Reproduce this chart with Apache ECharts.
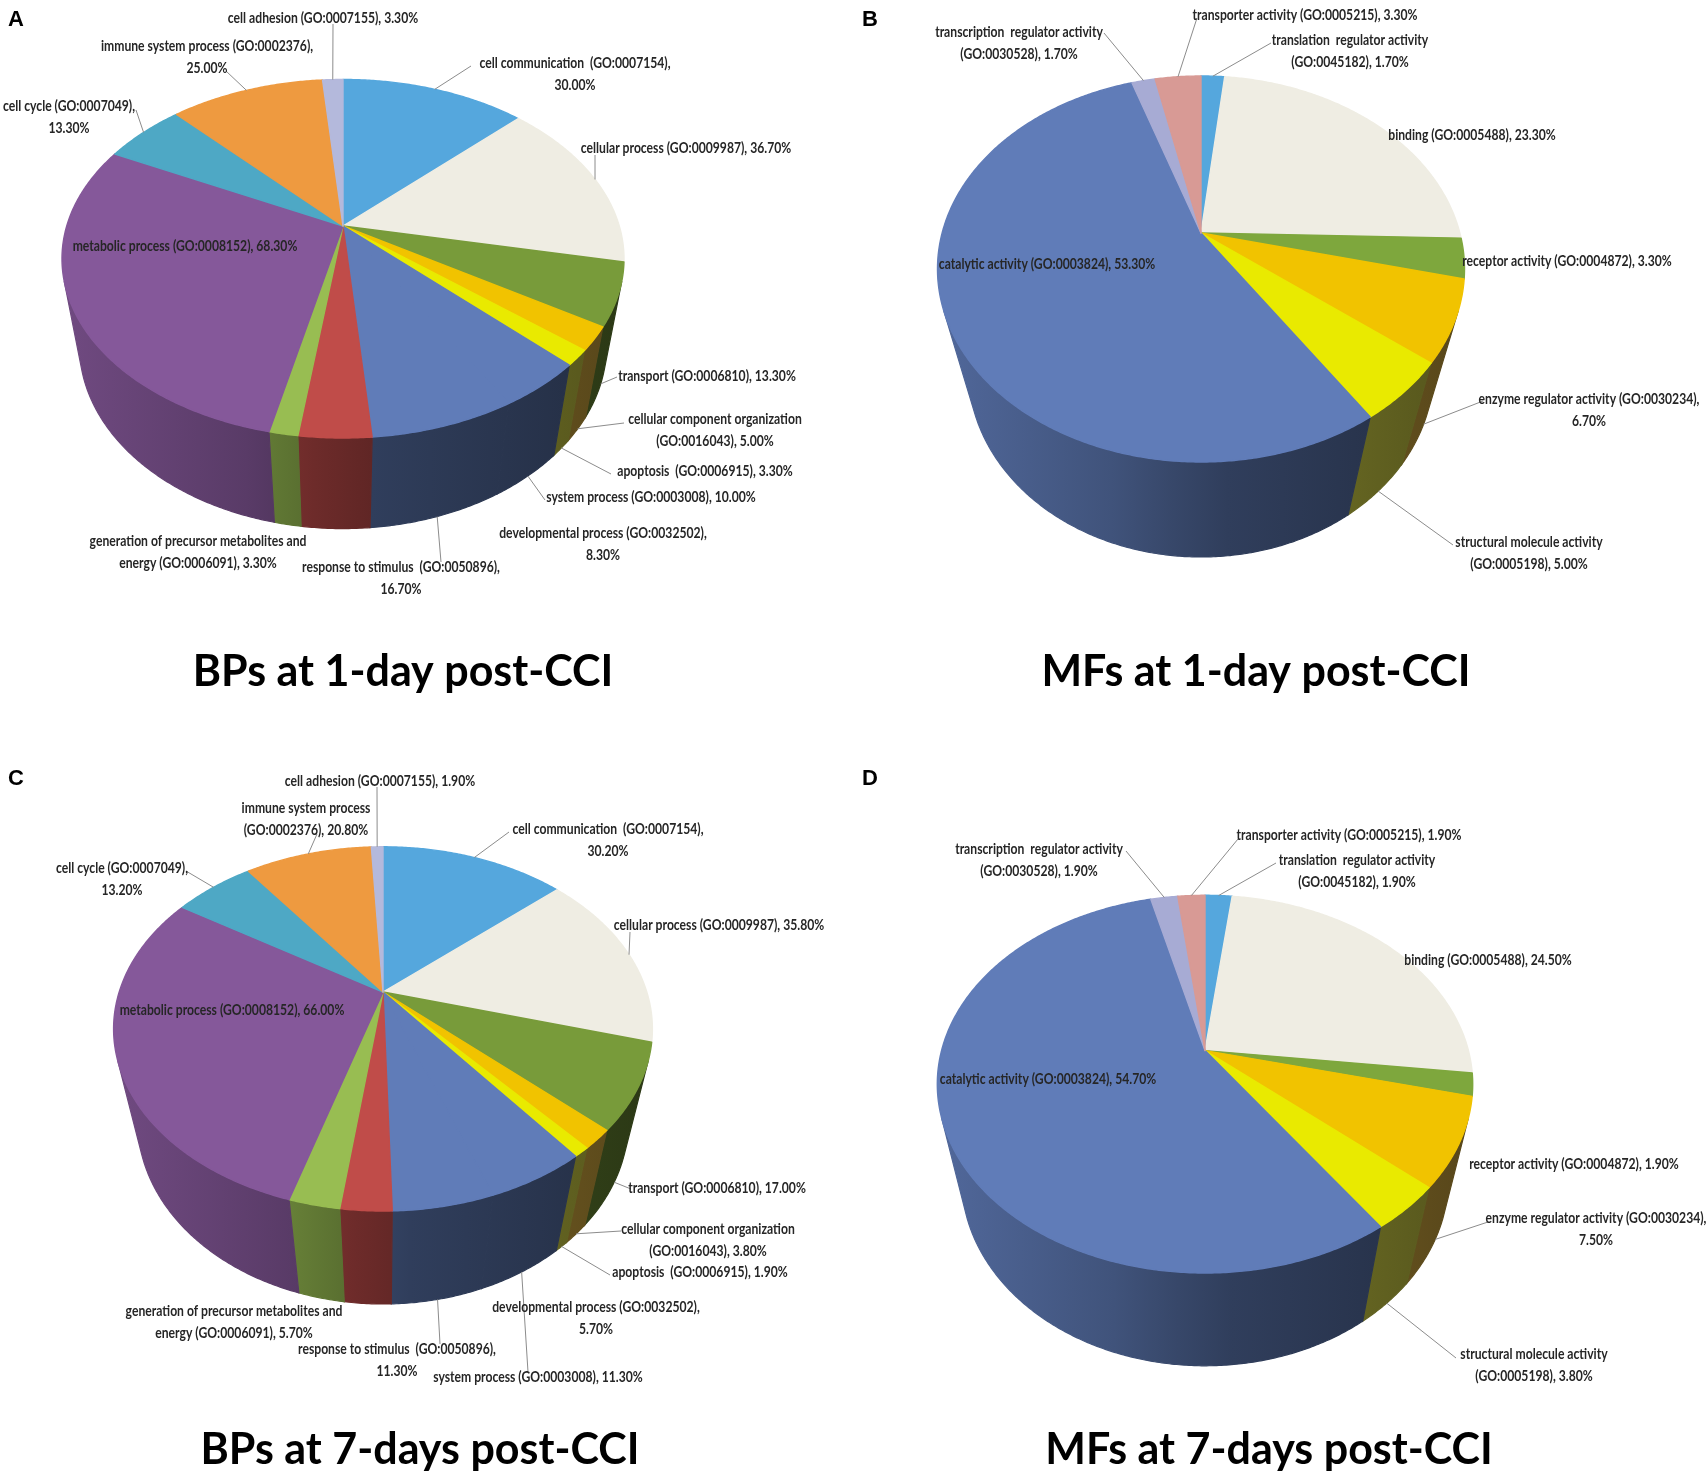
<!DOCTYPE html>
<html><head><meta charset="utf-8">
<script src="https://cdn.jsdelivr.net/npm/echarts@6/dist/echarts.min.js"></script>
<style>html,body{margin:0;padding:0;background:#fff}#c{width:1708px;height:1484px}</style>
</head><body><div id="c"></div>
<script>
// ---------- data ----------
const bpCategories = ['cell communication  (GO:0007154)', 'cellular process (GO:0009987)', 'transport (GO:0006810)',
  'cellular component organization (GO:0016043)', 'apoptosis  (GO:0006915)', 'system process (GO:0003008)',
  'response to stimulus  (GO:0050896)', 'developmental process (GO:0032502)',
  'generation of precursor metabolites and energy (GO:0006091)', 'metabolic process (GO:0008152)',
  'cell cycle (GO:0007049)', 'immune system process (GO:0002376)', 'cell adhesion (GO:0007155)'];
const bp1dayValues = [30.0, 36.7, 13.3, 5.0, 3.3, 10.0, 16.7, 8.3, 3.3, 68.3, 13.3, 25.0, 3.3];
const bp7dayValues = [30.2, 35.8, 17.0, 3.8, 1.9, 11.3, 11.3, 5.7, 5.7, 66.0, 13.2, 20.8, 1.9];
const bpColors = ['#55a7dd', '#efede3', '#789b3a', '#f1c300', '#e9ea00', '#607cb8', '#607cb8', '#c04c49',
  '#98bd52', '#85589a', '#4ea8c5', '#ee9a40', '#b4b9dc'];

const mfCategories = ['translation  regulator activity (GO:0045182)', 'binding (GO:0005488)',
  'receptor activity (GO:0004872)', 'enzyme regulator activity (GO:0030234)',
  'structural molecule activity (GO:0005198)', 'catalytic activity (GO:0003824)',
  'transcription  regulator activity (GO:0030528)', 'transporter activity (GO:0005215)'];
const mf1dayValues = [1.7, 23.3, 3.3, 6.7, 5.0, 53.3, 1.7, 3.3];
const mf7dayValues = [1.9, 24.5, 1.9, 7.5, 3.8, 54.7, 1.9, 1.9];
const mfColors = ['#55a7dd', '#efede3', '#7ea73d', '#f1c300', '#e9ea00', '#607cb8', '#a7abd4', '#d89a95'];

const panelTitles = ['BPs at 1-day post-CCI', 'MFs at 1-day post-CCI', 'BPs at 7-days post-CCI', 'MFs at 7-days post-CCI'];
const panelLetters = ['A', 'B', 'C', 'D'];

// ---------- layout (positions / sizes only) ----------
const geoA = {cx: 343, cy: 226, up: 146.5, down: 212, w: 281, side: 302.6};
const geoB = {cx: 1201, cy: 233, up: 157, down: 229, w: 263.5, side: 324};
const geoC = {cx: 383, cy: 992, up: 145.2, down: 219, w: 269.4, side: 312};
const geoD = {cx: 1205, cy: 1050.6, up: 155.3, down: 222.4, w: 267.7, side: 315.2};

// label layout: x,y = text block centre; s = leader start; d = leader end depth (0 top rim, 1 bottom rim)
const labA = [
  {x: 575, y: 74, brk: 'pct', s: [471, 66], d: 0},
  {x: 686, y: 148, s: [595, 155], d: 0},
  {x: 707, y: 376, s: [617, 377], d: 1},
  {x: 715, y: 430, brk: '(GO', s: [624, 423], d: 1},
  {x: 705, y: 471, s: [611, 474], d: 1},
  {x: 651, y: 497, s: [545, 500], d: 1},
  {x: 401, y: 578, brk: 'pct', s: [441, 562], d: 1},
  {x: 603, y: 544, brk: 'pct'},
  {x: 198, y: 552, brk: 'energy'},
  {x: 185, y: 246},
  {x: 69, y: 117, brk: 'pct', s: [136, 110], d: 0},
  {x: 207, y: 57, brk: 'pct', s: [226, 71], d: 0},
  {x: 323, y: 18, s: [333, 24], d: 0}
];
const labB = [
  {x: 1350, y: 51, brk: '(GO', s: [1271, 43], d: 0},
  {x: 1472, y: 135},
  {x: 1567, y: 261},
  {x: 1589, y: 410, brk: 'pct', s: [1483, 401], d: 1},
  {x: 1529, y: 553, brk: '(GO', s: [1453, 545], d: 1},
  {x: 1047, y: 264},
  {x: 1019, y: 43, brk: '(GO', s: [1104, 33], d: 0},
  {x: 1305, y: 15, s: [1197, 18], d: 0}
];
const labC = [
  {x: 608, y: 840, brk: 'pct', s: [509, 832], d: 0},
  {x: 719, y: 925, s: [630, 932], d: 0},
  {x: 717, y: 1188, s: [631, 1189], d: 1},
  {x: 708, y: 1240, brk: '(GO', s: [621, 1231], d: 1},
  {x: 700, y: 1272, s: [610, 1275], d: 1},
  {x: 538, y: 1377, s: [528, 1372], d: 1},
  {x: 397, y: 1360, brk: 'pct', s: [440, 1344], d: 1},
  {x: 596, y: 1318, brk: 'pct'},
  {x: 234, y: 1322, brk: 'energy'},
  {x: 232, y: 1010},
  {x: 122, y: 879, brk: 'pct', s: [186, 871], d: 0},
  {x: 306, y: 819, brk: '(GO', s: [317, 834], d: 0},
  {x: 380, y: 781, s: [377, 787], d: 0}
];
const labD = [
  {x: 1357, y: 871, brk: '(GO', s: [1276, 863], d: 0},
  {x: 1488, y: 960},
  {x: 1574, y: 1164},
  {x: 1596, y: 1229, brk: 'pct', s: [1488, 1222], d: 1},
  {x: 1534, y: 1365, brk: '(GO', s: [1456, 1358], d: 1},
  {x: 1048, y: 1079},
  {x: 1039, y: 860, brk: '(GO', s: [1126, 851], d: 0},
  {x: 1349, y: 835, s: [1238, 839], d: 0}
];
const titleCenters = [[403, 676], [1256, 676], [420, 1454], [1269, 1454]];
const letterPos = [[8, 9], [862, 9], [8, 768], [862, 768]];

const panels = [
  {cats: bpCategories, values: bp1dayValues, colors: bpColors, geo: geoA, labels: labA},
  {cats: mfCategories, values: mf1dayValues, colors: mfColors, geo: geoB, labels: labB},
  {cats: bpCategories, values: bp7dayValues, colors: bpColors, geo: geoC, labels: labC},
  {cats: mfCategories, values: mf7dayValues, colors: mfColors, geo: geoD, labels: labD}
];

// ---------- helpers ----------
function perspective(g) {
  const r = (g.down + g.up) / (g.down - g.up);
  const A = g.up * (r + 1);
  const Bp = g.w * Math.sqrt(r * r - 1);
  const s = A / Bp, c = Math.sqrt(1 - s * s), k = Bp * c, L = r * c;
  const H = (g.side * (L - c) - k * s) / (k * c - g.side * s);
  const proj = (t, h) => {
    const d = L - c * Math.sin(t) - h * s;
    return [g.cx + k * Math.cos(t) / d, g.cy + k * (s * Math.sin(t) - h * c) / d];
  };
  const ts = Math.asin(Math.min(1, 1 / (L * c)));
  return {proj, H, ts, te: Math.PI - ts};
}
function angles(values) {
  const tot = values.reduce((a, b) => a + b, 0);
  let cur = -Math.PI / 2;
  return values.map(v => { const a = cur; cur += v / tot * 2 * Math.PI; return [a, cur]; });
}
function arc(m, a, b, h) {
  const n = Math.max(2, Math.ceil((b - a) / (Math.PI / 360)));
  const pts = [];
  for (let i = 0; i <= n; i++) pts.push(m.proj(a + (b - a) * i / n, h));
  return pts;
}
function shade(hex, f) {
  const n = parseInt(hex.slice(1), 16);
  let r = ((n >> 16) & 255) * f, g = ((n >> 8) & 255) * f, b = (n & 255) * f;
  b = Math.max(b, 0.33 * (r + g) / 2);
  return 'rgb(' + Math.round(r) + ',' + Math.round(g) + ',' + Math.round(b) + ')';
}
function labelText(name, v, brk) {
  const pct = v.toFixed(2) + '%';
  if (brk === 'pct') return name + ',\n' + pct;
  let t = name + ', ' + pct;
  if (brk) t = t.replace(' ' + brk, '\n' + brk);
  return t;
}

const LABEL_FONT = 'Lato, "Open Sans", sans-serif';
const SHADE_STOPS = [[0, 0.84], [0.33, 0.67], [0.45, 0.57], [0.55, 0.5], [1, 0.36]];
const series = [];
panels.forEach((p, pi) => {
  const m = perspective(p.geo);
  const ang = angles(p.values);
  const data = p.values.map((v, i) => ({value: v, name: p.cats[i]}));
  const g = p.geo;
  // side walls
  series.push({
    type: 'custom', coordinateSystem: 'none', silent: true, animation: false, z: 1,
    data: data,
    renderItem: (params) => {
      const i = params.dataIndex;
      const lo = Math.max(ang[i][0], m.ts), hi = Math.min(ang[i][1], m.te);
      if (hi <= lo) return {type: 'group', children: []};
      const top = arc(m, lo, hi, 0);
      const bot = arc(m, lo, hi, -m.H).reverse();
      const col = p.colors[i];
      const grad = new echarts.graphic.LinearGradient(g.cx - g.w, 0, g.cx + g.w, 0,
        SHADE_STOPS.map(st => ({offset: st[0], color: shade(col, st[1])})), true);
      return {type: 'polygon', shape: {points: top.concat(bot)}, style: {fill: grad, stroke: grad, lineWidth: 1.2}};
    }
  });
  // top faces
  series.push({
    type: 'custom', coordinateSystem: 'none', silent: true, animation: false, z: 2,
    data: data,
    renderItem: (params) => {
      const i = params.dataIndex;
      const pts = [[g.cx, g.cy]].concat(arc(m, ang[i][0], ang[i][1], 0));
      return {type: 'polygon', shape: {points: pts}, style: {fill: p.colors[i], stroke: p.colors[i], lineWidth: 1.4, lineJoin: 'round'}};
    }
  });
  // labels
  series.push({
    type: 'custom', coordinateSystem: 'none', silent: true, animation: false, z: 3,
    data: data,
    renderItem: (params) => {
      const i = params.dataIndex;
      const lb = p.labels[i];
      const children = [];
      if (lb.s) {
        const mid = (ang[i][0] + ang[i][1]) / 2;
        const end = m.proj(mid, -lb.d * m.H);
        children.push({type: 'polyline', shape: {points: [lb.s, end]},
          style: {stroke: '#8c8c8c', lineWidth: 1, fill: null}});
      }
      children.push({type: 'text', x: lb.x, y: lb.y, scaleX: 0.76,
        style: {text: labelText(p.cats[i], p.values[i], lb.brk), fill: '#262626',
          fontSize: 16, fontWeight: 'bold', fontFamily: LABEL_FONT, align: 'center', verticalAlign: 'middle', lineHeight: 22}});
      return {type: 'group', children};
    }
  });
});

const titles = [];
panelLetters.forEach((t, i) => titles.push({text: t, left: letterPos[i][0], top: letterPos[i][1], padding: 0,
  textStyle: {fontFamily: '"Liberation Sans", Arial, sans-serif', fontWeight: 'bold', fontSize: 22, color: '#000'}}));
panelTitles.forEach((t, i) => titles.push({text: t, left: titleCenters[i][0], top: titleCenters[i][1] - 25, padding: 0,
  textAlign: 'center', textStyle: {fontFamily: 'Lato, "Open Sans", sans-serif', fontWeight: 'bold', fontSize: 43, color: '#000'}}));

const chart = echarts.init(document.getElementById('c'), null, {renderer: 'canvas'});
chart.setOption({backgroundColor: '#fff', animation: false, title: titles, series: series});
</script></body></html>
